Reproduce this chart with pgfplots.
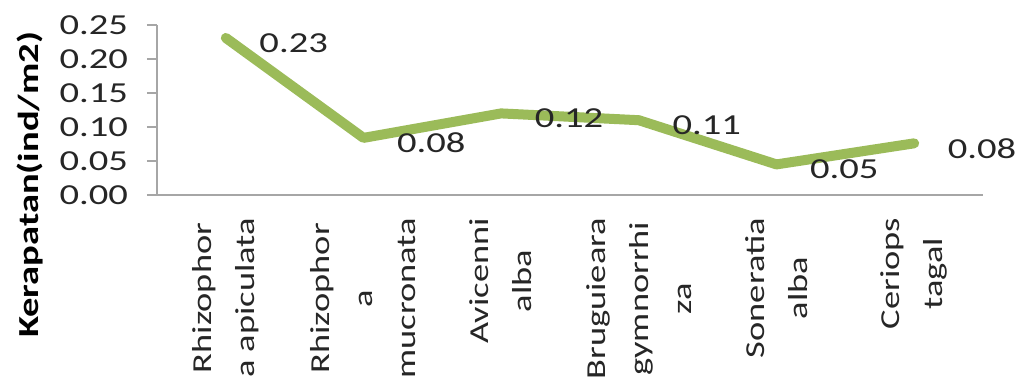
\documentclass[border=0pt]{standalone}
\usepackage{pgfplots}
\pgfplotsset{compat=1.18}
\usepackage{fontspec}
\setmainfont{Carlito}[FakeStretch=1.33]
\definecolor{linegreen}{HTML}{9BBB59}
\definecolor{axgray}{HTML}{A6A6A6}
\definecolor{txt}{HTML}{262626}
\begin{document}
\begin{tikzpicture}
\begin{axis}[
  name=ax,
  scale only axis,
  width=413pt, height=85pt,
  xmin=0, xmax=6, ymin=0, ymax=0.25,
  axis x line*=bottom, axis y line*=left,
  axis line style={axgray, line width=1.2pt, -},
  every tick/.style={axgray, line width=1pt},
  tick align=outside,
  major tick length=5pt, minor tick length=5pt,
  xtick={0.5,1.5,2.5,3.5,4.5,5.5},
  xticklabels={{Rhizophor\\a apiculata},{Rhizophor\\a\\mucronata},{Avicenni\\alba},{Bruguieara\\gymnorrhi\\za},{Soneratia\\alba},{Ceriops\\tagal}},
  xtick style={draw=none},
  minor xtick={0,1,2,3,4,5,6},
  xticklabel shift=3pt,
  xticklabel style={rotate=90, anchor=east, align=center, font=\fontsize{13.7}{21.5}\selectfont, text=txt},
  ytick={0,0.05,0.10,0.15,0.20,0.25},
  yticklabel shift=6pt,
  yticklabel style={/pgf/number format/.cd, fixed, fixed zerofill, precision=2, assume math mode=true, /tikz/.cd, font=\fontsize{14.5}{16}\selectfont, text=txt},
  ylabel={\bfseries Kerapatan(ind/m2)},
  ylabel style={at={(axis description cs:-0.154,0.06)}, anchor=center, rotate=0, font=\fontsize{14.5}{16}\selectfont, text=black},
  nodes near coords,
  point meta=explicit symbolic,
  every node near coord/.append style={anchor=west, xshift=11pt, yshift=-2.5pt, font=\fontsize{14.5}{16}\selectfont, text=txt},
  clip=false,
]
\addplot[linegreen, line width=5pt, line cap=round, line join=round, mark=none] coordinates {
  (0.5,0.231) [0.23]
  (1.5,0.084) [0.08]
  (2.5,0.120) [0.12]
  (3.5,0.110) [0.11]
  (4.5,0.045) [0.05]
  (5.5,0.076) [0.08]
};
\end{axis}
\pgfresetboundingbox
\path[use as bounding box] ([shift={(-78.5pt,-93.5pt)}]ax.south west) rectangle ([shift={(16.5pt,12.5pt)}]ax.north east);
\end{tikzpicture}
\end{document}
